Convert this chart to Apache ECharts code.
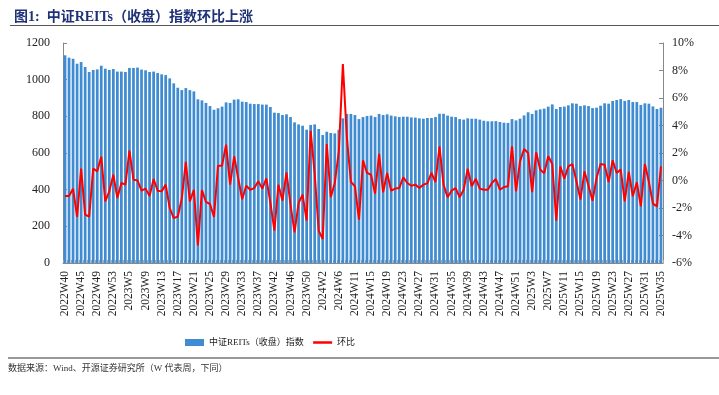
<!DOCTYPE html>
<html>
<head>
<meta charset="utf-8">
<script src="https://cdn.jsdelivr.net/npm/echarts@6/dist/echarts.min.js"></script>
<style>
html,body{margin:0;padding:0;background:#fff;}
#c{width:719px;height:395px;}
</style>
</head>
<body>
<div id="c"></div>
<script>
var categories = [
"2022W40","2022W42","2022W43","2022W44","2022W45","2022W46","2022W47","2022W48","2022W49","2022W50","2022W51","2022W52","2022W53",
"2023W1","2023W2","2023W3","2023W5","2023W6","2023W7","2023W8","2023W9","2023W10","2023W11","2023W12","2023W13","2023W14","2023W15","2023W16","2023W17","2023W18","2023W19","2023W20","2023W21","2023W22","2023W23","2023W24","2023W25","2023W26","2023W27","2023W28","2023W29","2023W30","2023W31","2023W32","2023W33","2023W34","2023W35","2023W36","2023W37","2023W38","2023W39","2023W41","2023W42","2023W43","2023W44","2023W45","2023W46","2023W47","2023W48","2023W49","2023W50","2023W51","2023W52",
"2024W1","2024W2","2024W3","2024W4","2024W5","2024W6","2024W8","2024W9","2024W10","2024W11","2024W12","2024W13","2024W14","2024W15","2024W16","2024W17","2024W18","2024W19","2024W20","2024W21","2024W22","2024W23","2024W24","2024W25","2024W26","2024W27","2024W28","2024W29","2024W30","2024W31","2024W32","2024W33","2024W34","2024W35","2024W36","2024W37","2024W38","2024W39","2024W40","2024W41","2024W42","2024W43","2024W44","2024W45","2024W46","2024W47","2024W48","2024W49","2024W50","2024W51","2024W52",
"2025W1","2025W2","2025W3","2025W4","2025W5","2025W6","2025W7","2025W8","2025W9","2025W10","2025W11","2025W12","2025W13","2025W14","2025W15","2025W16","2025W17","2025W18","2025W19","2025W20","2025W21","2025W22","2025W23","2025W24","2025W25","2025W26","2025W27","2025W28","2025W29","2025W30","2025W31","2025W32","2025W33","2025W34","2025W35"
];

var indexValues = [
1133,1120,1114,1087,1096,1069,1042,1053,1056,1076,1060,1053,1058,1044,1044,1042,1064,1064,1066,1055,
1051,1042,1044,1036,1029,1025,1007,980,956,943,954,943,936,893,887,873,856,836,844,853,
876,873,891,893,880,878,869,867,867,864,864,851,820,818,807,811,796,767,756,749,
727,753,756,731,698,716,709,707,727,789,813,813,807,785,796,802,804,796,813,807,
811,804,800,796,798,798,794,793,789,787,791,791,796,814,814,804,798,796,785,782,
789,787,787,782,776,773,773,774,769,765,764,785,778,787,805,822,813,833,838,842,
853,865,840,851,853,860,871,869,856,860,856,845,847,858,871,869,884,889,894,884,
889,878,878,862,871,869,854,840,847
];

var changePct = [
-1.13,-1.13,-0.59,-2.65,0.86,-2.48,-2.63,0.86,0.67,1.73,-1.52,-0.79,0.42,-1.27,-0.18,-0.30,2.17,0.06,0.01,-0.74,
-0.59,-1.13,0.11,-0.74,-0.79,-0.30,-2.0,-2.73,-2.63,-1.3,1.35,-1.52,-0.67,-4.72,-0.69,-1.56,-1.71,-2.65,1.08,1.08,
2.61,-0.30,1.76,0.18,-1.37,-0.38,-0.67,-0.55,-0.06,-0.59,0.16,-1.6,-3.65,-0.30,-1.47,0.59,-1.76,-3.77,-1.64,-1.03,
-2.92,3.62,0.5,-3.65,-4.25,2.65,-1.22,-0.18,2.12,8.47,3.09,-0.11,-0.42,-2.85,1.47,0.55,0.42,-0.96,1.93,-0.86,
0.55,-0.74,-0.59,-0.55,0.23,-0.18,-0.38,-0.30,-0.55,-0.3,-0.2,0.55,-0.11,2.48,-0.30,-1.22,-0.74,-0.55,-1.22,-0.67,
0.86,-0.42,0.13,-0.59,-0.67,-0.67,-0.18,0.11,-0.67,-0.47,-0.42,2.48,-0.79,1.39,2.29,2.0,-0.84,2.05,0.8,0.52,
1.76,1.2,-2.92,1.03,0.13,1.03,1.2,-0.06,-1.39,0.67,-0.38,-1.47,0.18,1.2,1.15,-0.11,1.47,0.55,0.79,-1.52,
0.62,-1.15,-0.13,-1.88,1.2,-0.11,-1.68,-1.88,1.03
];

var seriesNames = ["中证REITs（收盘）指数", "环比"];
var titleText = "图1:  中证REITs（收盘）指数环比上涨";
var sourceText = "数据来源：Wind、开源证券研究所（W 代表周，下同）";

var serif = "'Liberation Serif','Times New Roman','Noto Sans CJK SC',serif";
var cjk = "'Liberation Serif','Noto Sans CJK SC',sans-serif";

var chart = echarts.init(document.getElementById('c'), null, {renderer:'canvas'});
chart.setOption({
  animation: false,
  backgroundColor: '#fff',
  title: {
    text: titleText, left: 9, top: 5,
    textStyle: {fontSize: 14, fontWeight: 'bold', color: '#1F3278', fontFamily: cjk}
  },
  graphic: [
    {type:'line', shape:{x1:10,y1:25.5,x2:719,y2:25.5}, style:{stroke:'#555',lineWidth:1.2}},
    {type:'line', shape:{x1:8,y1:358,x2:719,y2:358}, style:{stroke:'#999',lineWidth:2}},
    {type:'text', left: 8, top: 364, style:{text: sourceText, fontSize: 9, fill:'#333', fontFamily: cjk}}
  ],
  legend: {
    left: 180, top: 333, itemGap: 8, itemWidth: 19, itemHeight: 7,
    textStyle: {fontSize: 9, color: '#222', fontFamily: cjk},
    data: [
      {name: seriesNames[0], icon: 'rect'},
      {name: seriesNames[1], itemStyle: {opacity: 0}, lineStyle: {color: '#FF0000', width: 2.5}}
    ]
  },
  grid: {left: 63, right: 56, top: 43, bottom: 132, containLabel: false},
  xAxis: {
    type: 'category', data: categories,
    axisLine: {lineStyle: {color: '#888', width: 1}},
    axisTick: {show: true, inside: true, length: 3, interval: 0, lineStyle:{color:'#aaa'}},
    axisLabel: {rotate: 90, interval: 3, fontSize: 11.5, color: '#222', fontFamily: serif, margin: 8}
  },
  yAxis: [
    {type: 'value', min: 0, max: 1200, interval: 200,
     splitLine: {show: false},
     axisLine: {show: true, lineStyle: {color: '#888'}},
     axisTick: {show: true, inside: true, length: 4, lineStyle:{color:'#888'}},
     axisLabel: {fontSize: 12, color: '#222', fontFamily: serif, margin: 13,
                 formatter: function(v){ return String(v); }}},
    {type: 'value', min: -6, max: 10, interval: 2,
     splitLine: {show: false},
     axisLine: {show: true, lineStyle: {color: '#888'}},
     axisTick: {show: true, inside: true, length: 4, lineStyle:{color:'#888'}},
     axisLabel: {fontSize: 12, color: '#222', fontFamily: serif, margin: 9, formatter: '{value}%'}}
  ],
  series: [
    {name: seriesNames[0], type: 'bar', data: indexValues, yAxisIndex: 0,
     barCategoryGap: '32%', itemStyle: {color: '#3F8CD2'}},
    {name: seriesNames[1], type: 'line', data: changePct, yAxisIndex: 1,
     symbol: 'none', lineStyle: {color: '#FF0000', width: 2}, itemStyle:{color:'#FF0000'}, z: 5}
  ]
});
</script>
</body>
</html>
